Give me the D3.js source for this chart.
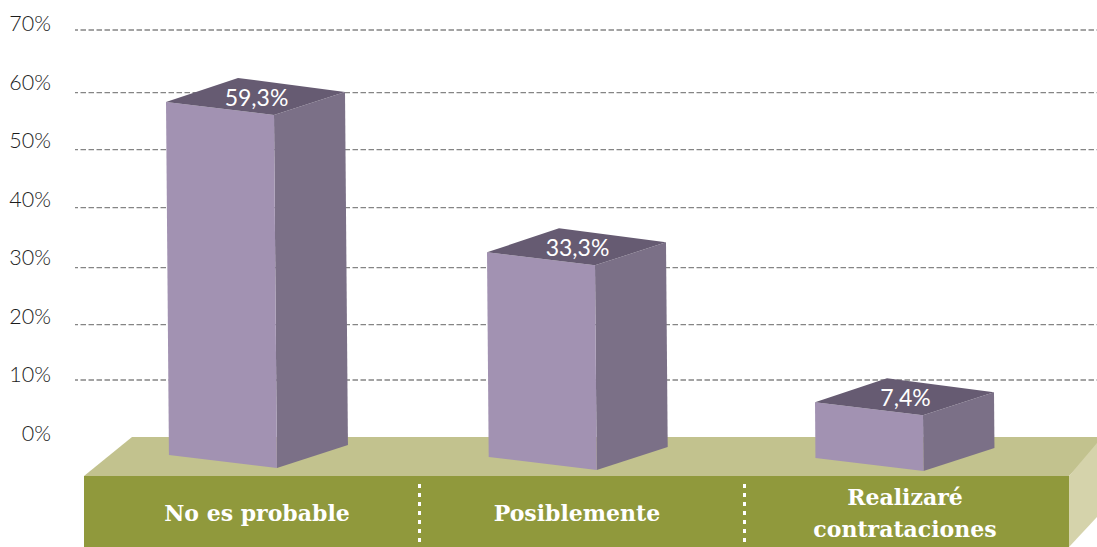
<!DOCTYPE html>
<html><head><meta charset="utf-8">
<style>html,body{margin:0;padding:0;background:#fff}svg{display:block}</style>
<script src="https://cdn.jsdelivr.net/npm/d3@7/dist/d3.min.js"></script></head>
<body><svg id="c" width="1097" height="547"></svg>
<script>
const categories = ["No es probable", "Posiblemente", "Realizaré contrataciones"];
const values = [59.3, 33.3, 7.4];
const valueLabels = ["59,3%", "33,3%", "7,4%"];
const tickValues = [0, 10, 20, 30, 40, 50, 60, 70];
const gridValues = [10, 20, 30, 40, 50, 60, 70];

const W = 1097, H = 547;
const svg = d3.select("#c");

// scales
const yBar = d3.scaleLinear().domain([0, 70]).range([445, 40]);
const yTick = d3.scaleLinear().domain([0, 70]).range([433.3, 23.3]);
const yGrid = d3.scaleLinear().domain(gridValues).range([380, 324.6, 267.6, 207.6, 149.6, 92.6, 30]);
const bandLeft = [166, 487, 815];
const baseY = [455, 457, 458];

const line = d3.line();
const poly = (g, pts, fill) => g.append("path").attr("d", line(pts) + "Z").attr("fill", fill);

// Base platform
poly(svg, [[84,476],[132,437],[1097,437],[1097,447],[1069,476]], "#c2c28e");
poly(svg, [[1069,476],[1097,443],[1097,517],[1069,547]], "#d5d3ab");
svg.append("rect").attr("x",84).attr("y",476).attr("width",985).attr("height",71).attr("fill","#90993c");

// separators
[419.5, 744.5].forEach(x => svg.append("line").attr("x1",x).attr("x2",x).attr("y1",484).attr("y2",547)
  .attr("stroke","#fff").attr("stroke-width",3).attr("stroke-dasharray","4 5"));

// grid
svg.append("g").selectAll("line").data(gridValues).join("line")
  .attr("x1",75).attr("x2",1097).attr("y1",d=>yGrid(d)).attr("y2",d=>yGrid(d))
  .attr("stroke","#858585").attr("stroke-width",1.4).attr("stroke-dasharray","5.5 2.5").attr("stroke-dashoffset",2.5);

// y labels
svg.append("g").selectAll("text").data(tickValues).join("text")
  .attr("x",51).attr("y",d=>yTick(d)).attr("dy","0.36em").attr("text-anchor","end")
  .attr("font-family","Lato").attr("font-weight",300).attr("font-size",21.5).attr("fill","#1c1c1c").text(d=>d+"%");

// bars
categories.forEach((c,i)=>{
  const g = svg.append("g");
  const x = bandLeft[i], t = yBar(values[i]), b = baseY[i];
  const lean = Math.min(3,(b-t)/120);
  const FW = 108, FD = 13, SW = 71, SD = 23;
  poly(g, [[x+FW,t+FD],[x+FW+SW,t+FD-SD],[x+FW+SW+lean,b+FD-SD],[x+FW+lean,b+FD]], "#7b7087");
  poly(g, [[x,t],[x+FW,t+FD],[x+FW+lean,b+FD],[x+lean,b]], "#a292b2");
  poly(g, [[x,t],[x+FW-36,t-FD-11],[x+FW+SW,t+FD-SD],[x+FW,t+FD]], "#665b72");
  g.append("text").attr("x",x+90.5).attr("y",t-4.5).attr("dy","0.36em").attr("text-anchor","middle")
    .attr("font-family","Lato").attr("font-size",23).attr("fill","#fff").text(valueLabels[i]);
});

// category labels
const catCx = [257, 577, 905];
const wrapped = [["No es probable"],["Posiblemente"],["Realizaré","contrataciones"]];
categories.forEach((c,i)=>{
  const lines = wrapped[i];
  const y0 = lines.length===1 ? 513 : 497;
  lines.forEach((l,j)=>svg.append("text").attr("x",catCx[i]).attr("y",y0+j*32).attr("dy","0.36em")
    .attr("text-anchor","middle").attr("font-family","DejaVu Serif").attr("font-weight","bold")
    .attr("font-size",22).attr("fill","#fff").text(l));
});
</script></body></html>
